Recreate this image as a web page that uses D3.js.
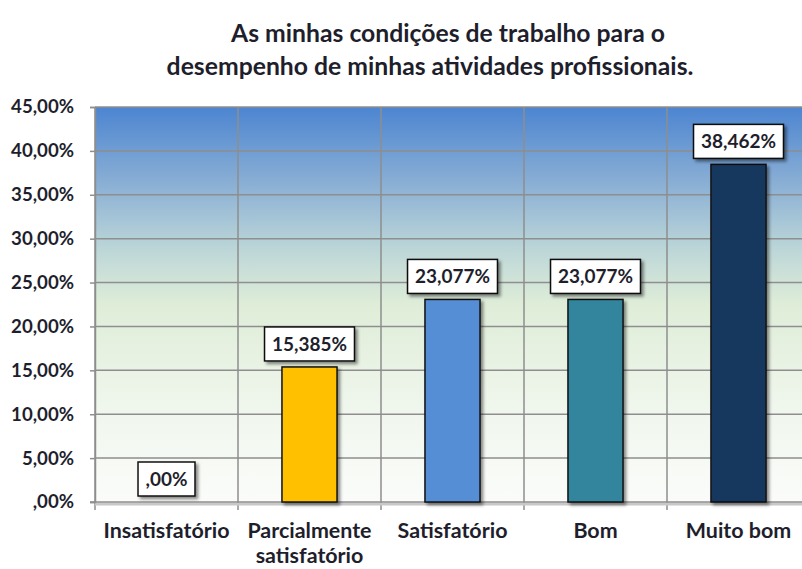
<!DOCTYPE html>
<html>
<head>
<meta charset="utf-8">
<script src="https://cdn.jsdelivr.net/npm/d3@7"></script>
<style>
  body { margin: 0; background: #fff; }
  text { font-family: Lato, "Open Sans", sans-serif; font-weight: bold; fill: #1e1e2c; }
</style>
</head>
<body>
<div class="container"></div>
<script>
let width = 802
let height = 569

// data
let categories = ["Insatisfatório", "Parcialmente satisfatório", "Satisfatório", "Bom", "Muito bom"]
let values = [0, 0.15385, 0.23077, 0.23077, 0.38462]
let barColors = ["#ffc000", "#ffc000", "#558ed5", "#31859c", "#17375e"]
let yTicks = [0, 0.05, 0.10, 0.15, 0.20, 0.25, 0.30, 0.35, 0.40, 0.45]
let titleLines = ["As minhas condições de trabalho para o", "desempenho de minhas atividades profissionais."]

let plot = { left: 95, right: 810, top: 107, bottom: 502 }

let svg = d3.select(".container")
  .append("svg")
  .attr("width", width)
  .attr("height", height)

// font size that makes a sample string about as wide as in the reference
function fitSize(sample, targetWidth) {
  let t = svg.append("text").attr("font-size", "20px").text(sample)
  let w = t.node().getComputedTextLength()
  t.remove()
  return 20 * targetWidth / w
}
let titleSize = fitSize(titleLines[1], 527)
let tickSize = fitSize("45,00%", 63)
let catSize = fitSize("Satisfatório", 110)
let labelSize = fitSize("38,462%", 75)

let defs = svg.append("defs")
let grad = defs.append("linearGradient")
  .attr("id", "bg")
  .attr("x1", 0).attr("y1", 0).attr("x2", 0).attr("y2", 1)
grad.append("stop").attr("offset", "0%").attr("stop-color", "#4c85d1")
grad.append("stop").attr("offset", "18%").attr("stop-color", "#86acd4")
grad.append("stop").attr("offset", "36%").attr("stop-color", "#bcd6d8")
grad.append("stop").attr("offset", "50%").attr("stop-color", "#dfedd8")
grad.append("stop").attr("offset", "75%").attr("stop-color", "#eff6ec")
grad.append("stop").attr("offset", "100%").attr("stop-color", "#fbfcfa")

let shadow = defs.append("filter").attr("id", "shadow")
  .attr("x", "-20%").attr("y", "-20%").attr("width", "150%").attr("height", "150%")
shadow.append("feDropShadow")
  .attr("dx", 2.5).attr("dy", 2.5).attr("stdDeviation", 1.5)
  .attr("flood-color", "#000").attr("flood-opacity", 0.45)

let x = d3.scaleBand()
  .domain(categories)
  .range([plot.left, plot.right])
  .paddingInner(0.615)
  .paddingOuter(0.3075)

let xCat = d3.scaleBand()
  .domain(categories)
  .range([plot.left, plot.right])

let y = d3.scaleLinear()
  .domain([0, 0.45])
  .range([plot.bottom, plot.top])

function pct(d, digits) {
  if (d === 0) return ",00%"
  return (d * 100).toFixed(digits).replace(".", ",") + "%"
}

// title (first line sits a little to the right, as in the original)
svg.append("g").selectAll("text")
  .data(titleLines)
  .enter()
  .append("text")
  .attr("x", function (d, i) { return i === 0 ? 448 : 430 })
  .attr("y", function (d, i) { return 42 + i * 33 })
  .attr("text-anchor", "middle")
  .attr("font-size", titleSize + "px")
  .text(function (d) { return d })

// plot background
svg.append("rect")
  .attr("x", plot.left)
  .attr("y", plot.top)
  .attr("width", plot.right - plot.left)
  .attr("height", plot.bottom - plot.top)
  .attr("fill", "url(#bg)")

// horizontal gridlines
svg.append("g").selectAll("line")
  .data(yTicks.slice(1))
  .enter()
  .append("line")
  .attr("x1", plot.left).attr("x2", plot.right)
  .attr("y1", function (d) { return y(d) })
  .attr("y2", function (d) { return y(d) })
  .attr("stroke", "#8e8e8e")
  .attr("stroke-width", 1.5)

// vertical gridlines at category boundaries
svg.append("g").selectAll("line")
  .data(categories)
  .enter()
  .append("line")
  .attr("x1", function (d) { return xCat(d) })
  .attr("x2", function (d) { return xCat(d) })
  .attr("y1", plot.top)
  .attr("y2", plot.bottom + 8)
  .attr("stroke", "#8e8e8e")
  .attr("stroke-width", 1.5)

// x axis baseline with soft shadow
svg.append("line")
  .attr("x1", plot.left).attr("x2", plot.right)
  .attr("y1", plot.bottom + 2).attr("y2", plot.bottom + 2)
  .attr("stroke", "#c8c8c8").attr("stroke-width", 3)
svg.append("line")
  .attr("x1", plot.left - 5).attr("x2", plot.right)
  .attr("y1", plot.bottom).attr("y2", plot.bottom)
  .attr("stroke", "#8e8e8e").attr("stroke-width", 1.5)

// y axis
let yAxis = svg.append("g")
  .attr("transform", "translate(" + plot.left + ",0)")
  .call(d3.axisLeft(y)
    .tickValues(yTicks)
    .tickSize(5)
    .tickPadding(16)
    .tickFormat(function (d) { return pct(d, 2) }))
yAxis.select(".domain").attr("stroke", "#8e8e8e").attr("stroke-width", 1.5)
yAxis.selectAll(".tick line").attr("stroke", "#8e8e8e").attr("stroke-width", 1.5)
yAxis.selectAll(".tick text")
  .attr("font-family", "Lato, sans-serif")
  .attr("font-size", tickSize + "px")
  .attr("font-weight", "bold")
  .attr("fill", "#1e1e2c")

// x labels, the long one wrapped on two lines
let xLabels = svg.append("g").selectAll("text")
  .data(categories)
  .enter()
  .append("text")
  .attr("x", function (d) { return xCat(d) + xCat.bandwidth() / 2 })
  .attr("y", 538)
  .attr("text-anchor", "middle")
  .attr("font-size", catSize + "px")
xLabels.each(function (d) {
  let parts = d === "Parcialmente satisfatório" ? ["Parcialmente", "satisfatório"] : [d]
  let t = d3.select(this)
  parts.forEach(function (p, i) {
    t.append("tspan")
      .attr("x", xCat(d) + xCat.bandwidth() / 2)
      .attr("dy", i === 0 ? 0 : 25)
      .text(p)
  })
})

// bars
svg.append("g").selectAll("rect")
  .data(values)
  .enter()
  .append("rect")
  .attr("x", function (d, i) { return x(categories[i]) })
  .attr("y", function (d) { return y(d) })
  .attr("width", x.bandwidth())
  .attr("height", function (d) { return y(0) - y(d) })
  .attr("fill", function (d, i) { return barColors[i] })
  .attr("stroke", "#111")
  .attr("stroke-width", 1.5)
  .attr("filter", "url(#shadow)")
  .style("display", function (d) { return d === 0 ? "none" : null })

// data labels
let labels = svg.append("g").selectAll("g")
  .data(values)
  .enter()
  .append("g")
  .attr("transform", function (d, i) {
    return "translate(" + (x(categories[i]) + x.bandwidth() / 2) + "," + (y(d) - 23) + ")"
  })

labels.append("text")
  .attr("text-anchor", "middle")
  .attr("dy", "0.36em")
  .attr("font-size", labelSize + "px")
  .text(function (d) { return pct(d, 3) })

labels.each(function () {
  let g = d3.select(this)
  let bb = g.select("text").node().getBBox()
  let w = bb.width + 15
  g.insert("rect", "text")
    .attr("x", -w / 2)
    .attr("y", -17)
    .attr("width", w)
    .attr("height", 34)
    .attr("fill", "#fff")
    .attr("stroke", "#111")
    .attr("stroke-width", 1.5)
    .attr("filter", "url(#shadow)")
})
</script>
</body>
</html>
